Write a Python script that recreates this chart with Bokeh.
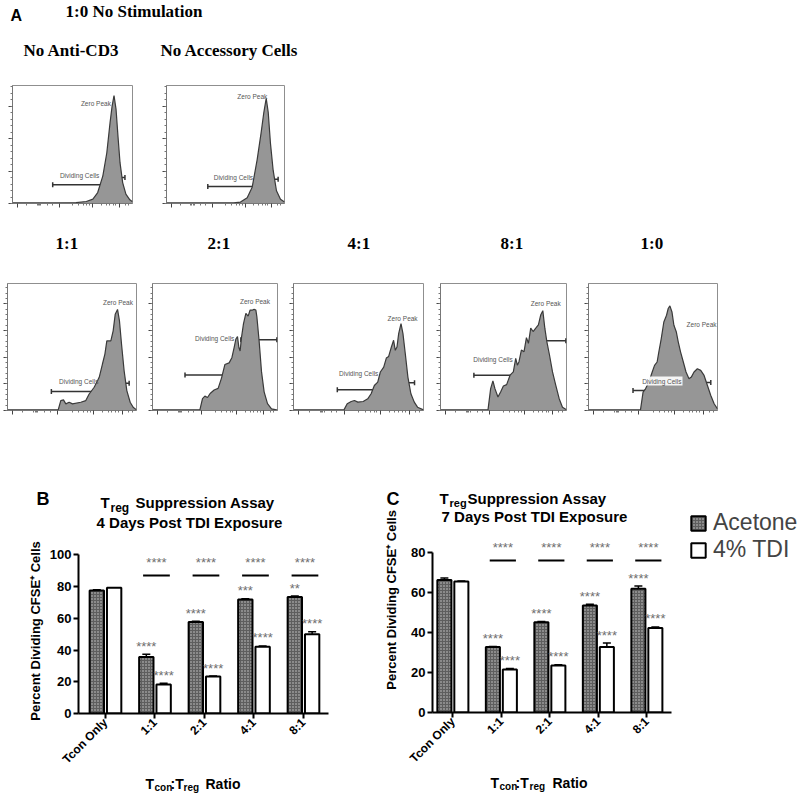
import math
from bokeh.plotting import figure
from bokeh.models import (Range1d, FixedTicker, ColumnDataSource, Whisker, TeeHead,
                          Label, Legend, LegendItem)
from bokeh.layouts import column, row
from bokeh.core.properties import value
from bokeh.embed import file_html
from bokeh.resources import INLINE

SANS = "Liberation Sans"
SERIF = "Liberation Serif"

# ---------------- Panel A: CFSE histograms (x,y in % of each plot frame) ----------------
a_header = "1:0 No Stimulation"
a_top_titles = ["No Anti-CD3", "No Accessory Cells"]
a_ratio_titles = ["1:1", "2:1", "4:1", "8:1", "1:0"]
gate_labels = ["Zero Peak", "Dividing Cells"]

noanti_x = [0, 31, 53, 61.5, 67, 71, 75.3, 78.6, 81.3, 83, 84.6, 86.3, 87.9, 89.6, 91.8, 94.5, 97.8, 100]
noanti_y = [0.6, 0.5, 0.8, 1.7, 3.7, 9.3, 23.4, 43, 68.5, 82.5, 91.5, 79.7, 57, 34.6, 17.7, 7.9, 3.1, 1.4]
noacc_x = [0, 57, 62.7, 68.4, 72.6, 76.8, 80.2, 82.5, 84.5, 86.2, 88.1, 90.4, 93.2, 96.6, 100]
noacc_y = [0.5, 0.6, 1.2, 4.9, 13.7, 37, 60, 77.3, 89.2, 77.3, 51, 28, 10.8, 3.5, 1.2]
r11_x = [0, 39.3, 41.3, 43.4, 45.2, 47.8, 50.4, 56.8, 60.7, 63.3, 67.2, 71.1, 73.6, 75.5, 77, 80.1,
         81.9, 83.5, 85.3, 86.8, 88.4, 90.4, 92.5, 95.1, 97.4, 100]
r11_y = [0.5, 0.5, 7.8, 8.4, 5.2, 6.5, 5.2, 6.5, 7.8, 13, 18.3, 26.1, 36.6, 44.4, 54.8, 54.8,
         62.7, 75.7, 79.6, 70.5, 52.2, 31.3, 15.7, 6.5, 2.6, 0.5]
r21_x = [0, 37.9, 40, 41.9, 44, 46.1, 49.3, 52.5, 55.2, 57.9, 61.3, 63.5, 65.3, 66.7, 68, 69.1, 70.1,
         71.2, 72.8, 74.7, 76.5, 78.1, 80, 81.3, 82.7, 83.5, 85.3, 87.2, 89.3, 92, 95.2, 100]
r21_y = [0.5, 0.5, 9.4, 11.3, 10.2, 13.4, 16.1, 17.4, 25.5, 36.2, 37.5, 41.6, 49.6, 56.3, 58.2, 49.6, 46.9,
         57.6, 68.4, 76.4, 74.3, 79.1, 79.1, 79.6, 79.1, 73.7, 54.7, 30.6, 14.7, 5.4, 1.3, 0.3]
r41_x = [0, 38.8, 41.3, 44.4, 46.9, 49.5, 53.6, 57.1, 59.7, 62.2, 64.8, 66.8, 69.4, 71.4, 73.2, 75.3,
         77, 78.3, 79.6, 80.9, 82.7, 84.2, 86, 88, 90.3, 92.9, 95.4, 100]
r41_y = [0.5, 0.5, 5.3, 7.1, 7.9, 6.6, 7.1, 9.2, 13.2, 19.7, 22.4, 30.3, 34.2, 41.3, 42.6, 50,
         55.3, 47.4, 50, 60.5, 68.4, 60.5, 44.7, 26.3, 13.2, 6.6, 2.6, 0.5]
r81_x = [0, 37.7, 39.8, 41.6, 43.2, 45.6, 47.7, 49.9, 52.5, 55.2, 57.8, 59.7, 61, 62.3, 64.2, 66.3,
         68.2, 69.8, 71.6, 73.5, 75.6, 77.7, 79.6, 81.2, 82.8, 84.4, 86.5, 88.9, 91.5, 94.2, 96.8, 100]
r81_y = [0.5, 0.5, 17.2, 23.3, 17.2, 10.6, 14.6, 19.3, 20.4, 27.8, 30.4, 41, 35.7, 38.4, 47.6, 46.3,
         57.4, 52.9, 64.8, 62.2, 64.8, 67.5, 75.4, 78.6, 64.8, 54.2, 43.7, 30.4, 19.8, 9.3, 2.6, 0.5]
r10_x = [0, 40.3, 42.3, 44.2, 46.8, 49.4, 51.2, 53.2, 54.5, 56.4, 58.4, 60.5, 61.8, 63.1, 64.7, 66.2,
         68.1, 69.6, 71.4, 73.5, 75.6, 77.9, 79.7, 81.8, 84.4, 87, 89.6, 92.2, 94.8, 97.4, 100]
r10_y = [0.5, 0.5, 14.5, 17.1, 22.4, 30.3, 35.5, 38.2, 46, 56.6, 69.7, 75, 80.3, 82.4, 77.6, 67.1,
         61.8, 53.9, 46, 38.2, 30.3, 25, 26.3, 30.3, 32.9, 31.6, 27.6, 19.7, 11.8, 5.3, 1.3]

# gates: (start, end, level) for "Dividing Cells" and "Zero Peak"
gates_div = {"noanti": (33.5, 75.8, 15.8), "noacc": (35, 76.8, 14.5), "r11": (34, 77, 14.9),
             "r21": (26, 70.7, 28), "r41": (33.7, 75.3, 16.3), "r81": (26.5, 71, 27.8), "r10": (34.5, 77, 15.8)}
gates_zero = {"noanti": (75.8, 93.7, 22), "noacc": (76.8, 94.6, 20.6), "r11": (77, 94.3, 21.4),
              "r21": (70.7, 99.5, 55.8), "r41": (75.3, 93.1, 21.8), "r81": (73.5, 99.5, 55), "r10": (77, 94.8, 22)}
label_zero = {"noanti": (57, 85), "noacc": (60, 90.7), "r11": (74, 85), "r21": (70, 85.8),
              "r41": (72.4, 72.4), "r81": (71.6, 83.9), "r10": (76, 67.6)}
label_div = {"noanti": (39.5, 23.4), "noacc": (40, 21.8), "r11": (40, 22.7), "r21": (34, 56.3),
             "r41": (35, 29.5), "r81": (26, 40), "r10": (40.8, 23.2)}

hist_xticks = [4, 39, 67, 89]
hist_xminor = [12, 20.5, 21.5, 22.5, 23.5, 29, 33, 50, 55, 59, 62, 64, 74, 78, 81, 84, 86, 94, 97]
row1_yticks = [0, 27.5, 55, 82.5]
row2_yticks = [0, 21, 42, 63, 84]

# ---------------- Panels B and C: bar charts ----------------
groups = ["Tcon Only", "1:1", "2:1", "4:1", "8:1"]
series = ["Acetone", "4% TDI"]

b_acetone = [77.5, 35.6, 57.7, 71.8, 73.4]
b_acetone_err = [0.5, 1.8, 0.5, 0.5, 0.6]
b_tdi = [79.3, 18.3, 23.3, 42.1, 49.9]
b_tdi_err = [0.0, 0.8, 0.3, 0.5, 1.6]
b_acetone_sig = ["", "****", "****", "***", "**"]
b_tdi_sig = ["", "****", "****", "****", "****"]
b_pair_sig = ["", "****", "****", "****", "****"]
b_pair_level = 87

c_acetone = [66.4, 32.8, 45.3, 53.6, 62.0]
c_acetone_err = [1.0, 0.3, 0.3, 0.6, 1.4]
c_tdi = [65.7, 21.6, 23.5, 32.8, 42.3]
c_tdi_err = [0.2, 0.4, 0.4, 2.0, 0.6]
c_acetone_sig = ["", "****", "****", "****", "****"]
c_tdi_sig = ["", "****", "****", "****", "****"]
c_pair_sig = ["", "****", "****", "****", "****"]
c_pair_level = 76.2

ylabel = "Percent Dividing CFSE\u207a Cells"


def text_strip(x0, y0, w, h):
    """Text-only figure whose data coordinates equal page pixels."""
    p = figure(width=w, height=h, x_range=Range1d(x0, x0 + w), y_range=Range1d(y0 + h, y0),
               toolbar_location=None, output_backend="svg",
               x_axis_location=None, y_axis_location=None,
               min_border_left=0, min_border_right=0, min_border_top=0, min_border_bottom=0)
    p.grid.visible = False
    p.outline_line_color = None
    return p


def stext(p, x, y, text, size, style="bold", font=SANS, align="left", angle=0.0):
    p.text(x=[x], y=[y], text=[text], text_font=value(font), text_font_size=size,
           text_font_style=style, text_align=align, text_baseline="middle", text_color="black",
           angle=angle)


def hist_fig(w, h, bl, br, bt, bb, xs, ys, key, yticks, boxed=False):
    p = figure(width=w, height=h, x_range=Range1d(0, 100), y_range=Range1d(0, 100),
               toolbar_location=None, output_backend="svg",
               min_border_left=bl, min_border_right=br, min_border_top=bt, min_border_bottom=bb)
    p.grid.visible = False
    p.outline_line_color = "#8f8f8f"
    p.varea(x=xs, y1=[0] * len(xs), y2=ys, fill_color="#969696")
    p.line(x=xs, y=ys, line_color="#3a3a3a", line_width=1.2)
    gd, gz = gates_div[key], gates_zero[key]
    src = ColumnDataSource(dict(base=[gd[2], gz[2]], lower=[gd[0], gz[0]], upper=[gd[1], gz[1]]))
    p.add_layout(Whisker(source=src, base="base", lower="lower", upper="upper", dimension="width",
                         line_color="#333333", line_width=1.5,
                         lower_head=TeeHead(size=5, line_color="#333333", line_width=1.5),
                         upper_head=TeeHead(size=5, line_color="#333333", line_width=1.5)))
    lz, ld = label_zero[key], label_div[key]
    p.text(x=[lz[0]], y=[lz[1]], text=[gate_labels[0]], text_font=value(SANS), text_font_size="6.5px",
           text_color="#555555", text_baseline="middle", text_align="left")
    kw = {}
    if boxed:
        kw = dict(background_fill_color="white", background_fill_alpha=0.9, padding=1)
    p.text(x=[ld[0]], y=[ld[1]], text=[gate_labels[1]], text_font=value(SANS), text_font_size="6.5px",
           text_color="#555555", text_baseline="middle", text_align="left", **kw)
    step = yticks[1] / 5.0
    yminor = [k * step for k in range(int(100 / step) + 1)]
    p.xaxis.ticker = FixedTicker(ticks=hist_xticks, minor_ticks=hist_xminor)
    p.yaxis.ticker = FixedTicker(ticks=yticks, minor_ticks=yminor)
    for ax in (p.xaxis[0], p.yaxis[0]):
        ax.major_label_text_font_size = "0px"
        ax.major_label_text_color = None
        ax.major_label_standoff = 0
        ax.major_tick_out = 4
        ax.major_tick_in = 0
        ax.minor_tick_out = 2
        ax.minor_tick_in = 0
        ax.axis_line_color = "#777777"
        ax.major_tick_line_color = "#444444"
        ax.minor_tick_line_color = "#777777"
    return p


def bar_fig(w, h, bl, br, bt, bb, x0, px_per_unit, y_end, y_top_tick, ax_right,
            acet, acet_err, tdi, tdi_err, acet_sig, tdi_sig, pair_sig, pair_level, with_ylabel):
    fw = w - bl - br
    p = figure(width=w, height=h, x_range=Range1d(x0, x0 + fw / px_per_unit), y_range=Range1d(0, y_end),
               toolbar_location=None, output_backend="svg",
               min_border_left=bl, min_border_right=br, min_border_top=bt, min_border_bottom=bb)
    p.grid.visible = False
    p.outline_line_color = None
    idx = list(range(len(groups)))
    xa = [i - 0.175 for i in idx]
    xt = [i + 0.175 for i in idx]
    sa = ColumnDataSource(dict(x=xa, top=acet, up=[a + e for a, e in zip(acet, acet_err)], sig=acet_sig))
    st = ColumnDataSource(dict(x=xt, top=tdi, up=[a + e for a, e in zip(tdi, tdi_err)], sig=tdi_sig))
    ra = p.vbar(x="x", top="top", width=0.29, source=sa, fill_color="#5e5e5e", hatch_pattern="dot",
                hatch_color="#cfcfcf", hatch_scale=3, hatch_weight=1, line_color="black", line_width=2)
    rt = p.vbar(x="x", top="top", width=0.29, source=st, fill_color="white", line_color="black", line_width=2)
    for s in (sa, st):
        p.add_layout(Whisker(source=s, base="x", lower="top", upper="up", dimension="height",
                             line_color="black", line_width=1.5, lower_head=None,
                             upper_head=TeeHead(size=8, line_color="black", line_width=1.5)))
        p.text(x="x", y="up", text="sig", source=s, text_font=value(SANS), text_font_size="13px",
               text_color="#6e6e6e", text_align="center", text_baseline="middle", y_offset=-8)
    pair_idx = [i for i in idx if pair_sig[i]]
    p.segment(x0=[i - 0.24 for i in pair_idx], x1=[i + 0.30 for i in pair_idx],
              y0=[pair_level] * len(pair_idx), y1=[pair_level] * len(pair_idx),
              line_color="black", line_width=2)
    p.text(x=[i + 0.03 for i in pair_idx], y=[pair_level] * len(pair_idx),
           text=[pair_sig[i] for i in pair_idx], text_font=value(SANS), text_font_size="13px",
           text_color="#6e6e6e", text_align="center", text_baseline="middle", y_offset=-13)
    yt = list(range(0, y_top_tick + 1, 20))
    p.yaxis.ticker = FixedTicker(ticks=yt)
    p.yaxis.bounds = (0, y_top_tick)
    p.xaxis.ticker = FixedTicker(ticks=idx)
    p.xaxis.major_label_overrides = {i: g for i, g in zip(idx, groups)}
    p.xaxis.bounds = (x0, ax_right)
    p.xaxis.major_label_orientation = math.pi / 4
    for ax in (p.xaxis[0], p.yaxis[0]):
        ax.axis_line_width = 2
        ax.major_tick_line_width = 2
        ax.major_tick_out = 5
        ax.major_tick_in = 0
        ax.minor_tick_line_color = None
        ax.major_label_text_font = SANS
        ax.major_label_text_font_style = "bold"
        ax.major_label_text_color = "black"
        ax.major_label_standoff = 2
    p.yaxis.major_label_text_font_size = "13px"
    p.xaxis.major_label_text_font_size = "12px"
    if with_ylabel:
        p.yaxis.axis_label = ylabel
        p.yaxis.axis_label_text_font = SANS
        p.yaxis.axis_label_text_font_style = "bold"
        p.yaxis.axis_label_text_font_size = "13px"
        p.yaxis.axis_label_text_color = "black"
    return p, ra, rt


# ---------- header strips ----------
t1 = text_strip(0, 0, 800, 76)
stext(t1, 10, 15, "A", "16px")
stext(t1, 65, 11, a_header, "17px", font=SERIF)
stext(t1, 23, 50, a_top_titles[0], "17px", font=SERIF)
stext(t1, 160, 50, a_top_titles[1], "17px", font=SERIF)

t2 = text_strip(0, 220, 800, 56)
for xl, ttl in zip([55, 207, 347, 500, 640], a_ratio_titles):
    stext(t2, xl, 243, ttl, "17px", font=SERIF)

# ---------- histograms ----------
h_a1 = hist_fig(152, 144, 12, 20, 9, 17, noanti_x, noanti_y, "noanti", row1_yticks)
h_a2 = hist_fig(148, 144, 14, 16, 9, 17, noacc_x, noacc_y, "noacc", row1_yticks)
h_11 = hist_fig(146, 146, 7, 10, 7, 12, r11_x, r11_y, "r11", row2_yticks)
h_21 = hist_fig(140, 146, 6, 9, 7, 12, r21_x, r21_y, "r21", row2_yticks)
h_41 = hist_fig(146, 146, 7, 9, 7, 12, r41_x, r41_y, "r41", row2_yticks)
h_81 = hist_fig(148, 146, 8, 14, 7, 12, r81_x, r81_y, "r81", row2_yticks)
h_10 = hist_fig(150, 146, 8, 13, 7, 12, r10_x, r10_y, "r10", row2_yticks, boxed=True)

# ---------- panel B ----------
sB = text_strip(0, 422, 372, 112)
stext(sB, 36, 498, "B", "18px")
stext(sB, 100, 502, "T", "15px")
stext(sB, 110, 507, "reg", "12px")
stext(sB, 135, 502, "Suppression Assay", "15px")
stext(sB, 189, 522, "4 Days Post TDI Exposure", "15px", align="center")

pB, raB, rtB = bar_fig(372, 240, 78, 44, 14, 56, -0.545, 49.5, 104, 100, 4.505,
                       b_acetone, b_acetone_err, b_tdi, b_tdi_err,
                       b_acetone_sig, b_tdi_sig, b_pair_sig, b_pair_level, True)
pB.yaxis.axis_label_standoff = 4

sBb = text_strip(0, 774, 372, 23)
stext(sBb, 145, 783, "T", "14px")
stext(sBb, 154, 787, "con", "10px")
stext(sBb, 170, 783, ":T", "14px")
stext(sBb, 183, 787, "reg", "10px")
stext(sBb, 205, 783, "Ratio", "14px")

# ---------- panel C ----------
sC = text_strip(372, 422, 428, 87)
stext(sC, 386, 498, "C", "18px")
stext(sC, 439, 498, "T", "15px")
stext(sC, 449, 502, "reg", "11px")
stext(sC, 467, 498, "Suppression Assay", "15px")

yC = text_strip(372, 509, 28, 265)
stext(yC, 391, 627, ylabel, "13px", align="center", angle=math.pi / 2)

C_PX_PER_UNIT_Y = 1.995
pC, raC, rtC = bar_fig(400, 265, 32, 0, 0, 62, -0.42, 48.5, 203 / C_PX_PER_UNIT_Y, 80, 4.5,
                       c_acetone, c_acetone_err, c_tdi, c_tdi_err,
                       c_acetone_sig, c_tdi_sig, c_pair_sig, c_pair_level, False)
pC.add_layout(Label(x=-0.42 + (534 - 432) / 48.5, y=(712 - 516) / C_PX_PER_UNIT_Y,
                    text="7 Days Post TDI Exposure", text_font=SANS, text_font_size="15px",
                    text_font_style="bold", text_align="center", text_baseline="middle",
                    text_color="black"))

legend = Legend(items=[LegendItem(label=value(series[0]), renderers=[raC]),
                       LegendItem(label=value(series[1]), renderers=[rtC])],
                location=(257, 149), label_text_font=SANS, label_text_font_size="23px",
                glyph_width=18, glyph_height=18, spacing=-5, padding=0, margin=0,
                label_standoff=6, border_line_color=None, background_fill_alpha=0)
pC.add_layout(legend)

sCb = text_strip(372, 774, 428, 23)
stext(sCb, 490, 782, "T", "14px")
stext(sCb, 499, 786, "con", "10px")
stext(sCb, 515, 782, ":T", "14px")
stext(sCb, 529, 786, "reg", "10px")
stext(sCb, 552, 782, "Ratio", "14px")

layout = column(
    row(t1),
    row(h_a1, h_a2),
    row(t2),
    row(h_11, h_21, h_41, h_81, h_10),
    row(column(row(sB), row(pB), row(sBb)), column(row(sC), row(yC, pC), row(sCb))),
)

open("out.html", "w").write(file_html(layout, INLINE))
